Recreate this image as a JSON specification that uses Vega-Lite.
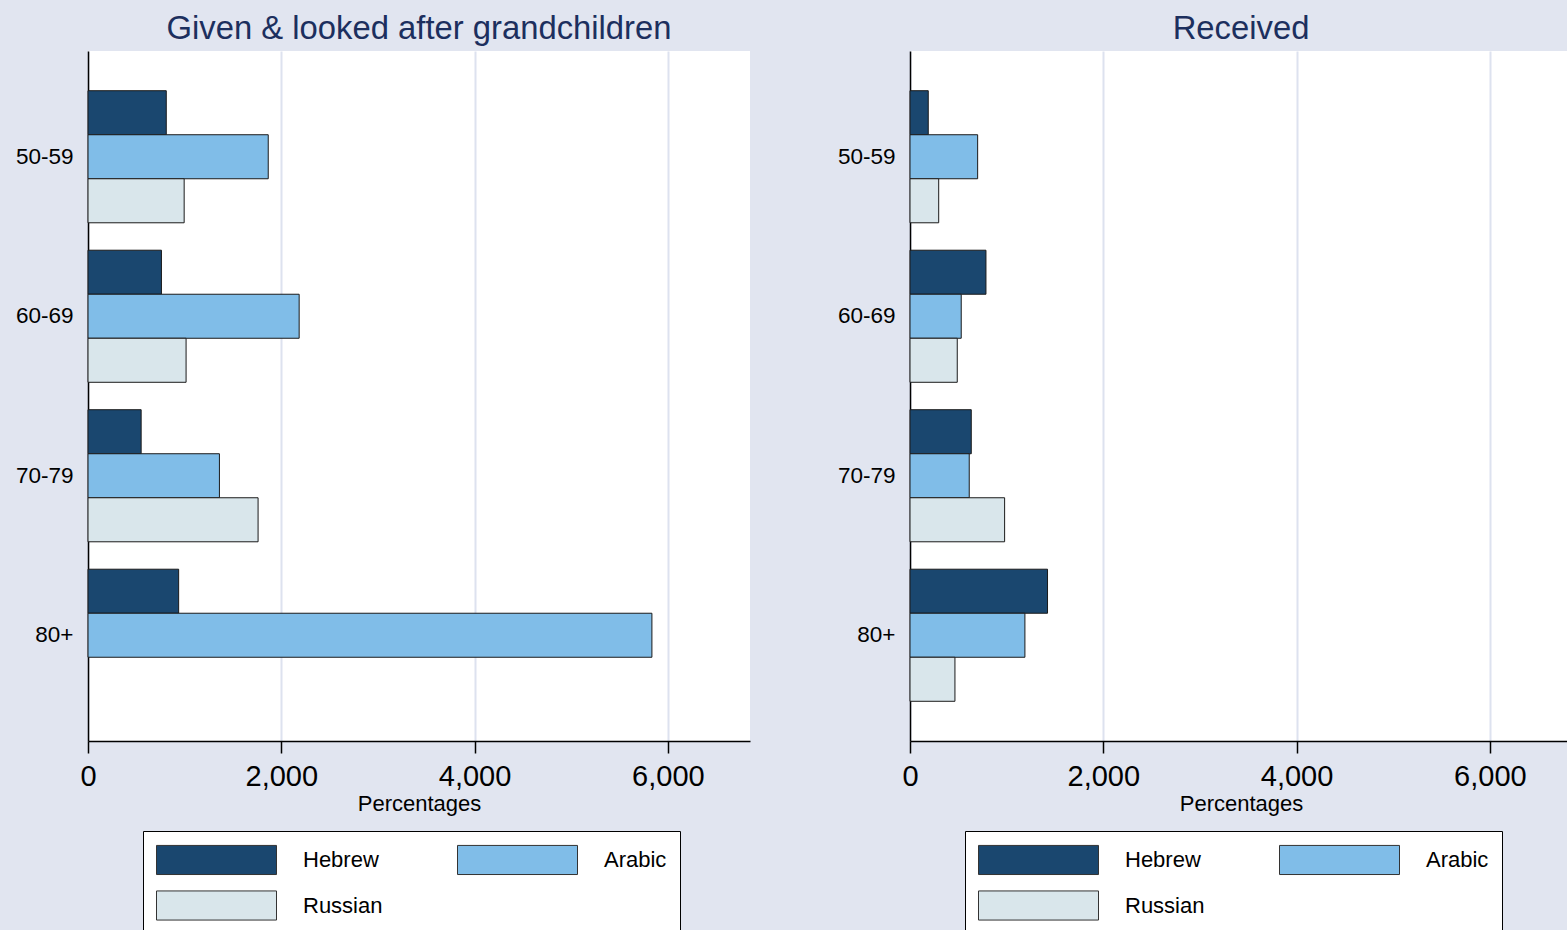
{
  "$schema": "https://vega.github.io/schema/vega-lite/v6.json",
  "background": "#e1e5f0",
  "padding": {"left": 15, "top": 13, "right": 0, "bottom": 0},
  "spacing": 87,
  "config": {
    "font": "Liberation Sans",
    "view": {"fill": "white", "stroke": null},
    "title": {"fontSize": 32.8, "font": "Liberation Sans", "fontWeight": "normal", "color": "#1c2f5e", "anchor": "middle", "baseline": "alphabetic", "offset": 5},
    "axisY": {"title": null, "ticks": false, "labelPadding": 15, "labelFontSize": 22.5, "labelColor": "black", "domainColor": "black", "domainWidth": 1.5, "grid": false},
    "axisX": {"labelFontSize": 29, "titleFontSize": 22, "titleFontWeight": "normal", "titleColor": "black", "labelColor": "black", "labelFlush": false, "tickSize": 12, "tickColor": "black", "tickWidth": 1.5, "labelPadding": 9, "titlePadding": 2, "domainColor": "black", "domainWidth": 1.5, "gridColor": "#dde2ef", "gridWidth": 2},
    "legend": {"title": null, "orient": "none", "direction": "horizontal", "legendX": 55, "legendY": 780, "columns": 2, "symbolType": "M-4,-0.97H4V0.97H-4Z", "symbolSize": 900, "symbolOffset": 45, "symbolStrokeColor": "#333333", "symbolStrokeWidth": 1, "symbolOpacity": 1, "labelFontSize": 22, "labelColor": "black", "labelOffset": 71, "columnPadding": 72, "rowPadding": 11, "padding": 13, "strokeColor": "black", "fillColor": "white", "gridAlign": "all", "labelLimit": 300}
  },
  "datasets": {
    "bars": [
      {"panel": "Given", "age": "50-59", "language": "Hebrew", "value": 810},
      {"panel": "Given", "age": "50-59", "language": "Arabic", "value": 1865},
      {"panel": "Given", "age": "50-59", "language": "Russian", "value": 995},
      {"panel": "Given", "age": "60-69", "language": "Hebrew", "value": 760},
      {"panel": "Given", "age": "60-69", "language": "Arabic", "value": 2185},
      {"panel": "Given", "age": "60-69", "language": "Russian", "value": 1015},
      {"panel": "Given", "age": "70-79", "language": "Hebrew", "value": 550},
      {"panel": "Given", "age": "70-79", "language": "Arabic", "value": 1360},
      {"panel": "Given", "age": "70-79", "language": "Russian", "value": 1760},
      {"panel": "Given", "age": "80+", "language": "Hebrew", "value": 938},
      {"panel": "Given", "age": "80+", "language": "Arabic", "value": 5835},
      {"panel": "Received", "age": "50-59", "language": "Hebrew", "value": 189},
      {"panel": "Received", "age": "50-59", "language": "Arabic", "value": 700},
      {"panel": "Received", "age": "50-59", "language": "Russian", "value": 297},
      {"panel": "Received", "age": "60-69", "language": "Hebrew", "value": 786},
      {"panel": "Received", "age": "60-69", "language": "Arabic", "value": 530},
      {"panel": "Received", "age": "60-69", "language": "Russian", "value": 489},
      {"panel": "Received", "age": "70-79", "language": "Hebrew", "value": 634},
      {"panel": "Received", "age": "70-79", "language": "Arabic", "value": 613},
      {"panel": "Received", "age": "70-79", "language": "Russian", "value": 979},
      {"panel": "Received", "age": "80+", "language": "Hebrew", "value": 1423},
      {"panel": "Received", "age": "80+", "language": "Arabic", "value": 1189},
      {"panel": "Received", "age": "80+", "language": "Russian", "value": 465}
    ]
  },
  "resolve": {"legend": {"color": "independent"}},
  "hconcat": [
    {
      "width": 662,
      "height": 690,
      "title": "Given & looked after grandchildren",
      "data": {"name": "bars"},
      "transform": [{"filter": "datum.panel === 'Given'"}],
      "mark": {"type": "bar", "stroke": "#1a1a1a", "strokeWidth": 1},
      "encoding": {
        "y": {"field": "age", "type": "nominal", "sort": ["50-59", "60-69", "70-79", "80+"], "scale": {"paddingInner": 0.172, "paddingOuter": 0.249}},
        "yOffset": {"field": "language", "type": "nominal", "sort": ["Hebrew", "Arabic", "Russian"], "scale": {"paddingInner": 0, "paddingOuter": 0}},
        "x": {"field": "value", "type": "quantitative", "scale": {"domain": [0, 6850], "nice": false}, "axis": {"title": "Percentages", "values": [0, 2000, 4000, 6000], "format": ",d"}},
        "color": {"field": "language", "type": "nominal", "scale": {"domain": ["Hebrew", "Arabic", "Russian"], "range": ["#1a476f", "#80bde8", "#d9e6eb"]}}
      }
    },
    {
      "width": 662,
      "height": 690,
      "title": "Received",
      "data": {"name": "bars"},
      "transform": [{"filter": "datum.panel === 'Received'"}],
      "mark": {"type": "bar", "stroke": "#1a1a1a", "strokeWidth": 1},
      "encoding": {
        "y": {"field": "age", "type": "nominal", "sort": ["50-59", "60-69", "70-79", "80+"], "scale": {"paddingInner": 0.172, "paddingOuter": 0.249}},
        "yOffset": {"field": "language", "type": "nominal", "sort": ["Hebrew", "Arabic", "Russian"], "scale": {"paddingInner": 0, "paddingOuter": 0}},
        "x": {"field": "value", "type": "quantitative", "scale": {"domain": [0, 6850], "nice": false}, "axis": {"title": "Percentages", "values": [0, 2000, 4000, 6000], "format": ",d"}},
        "color": {"field": "language", "type": "nominal", "scale": {"domain": ["Hebrew", "Arabic", "Russian"], "range": ["#1a476f", "#80bde8", "#d9e6eb"]}}
      }
    }
  ]
}
